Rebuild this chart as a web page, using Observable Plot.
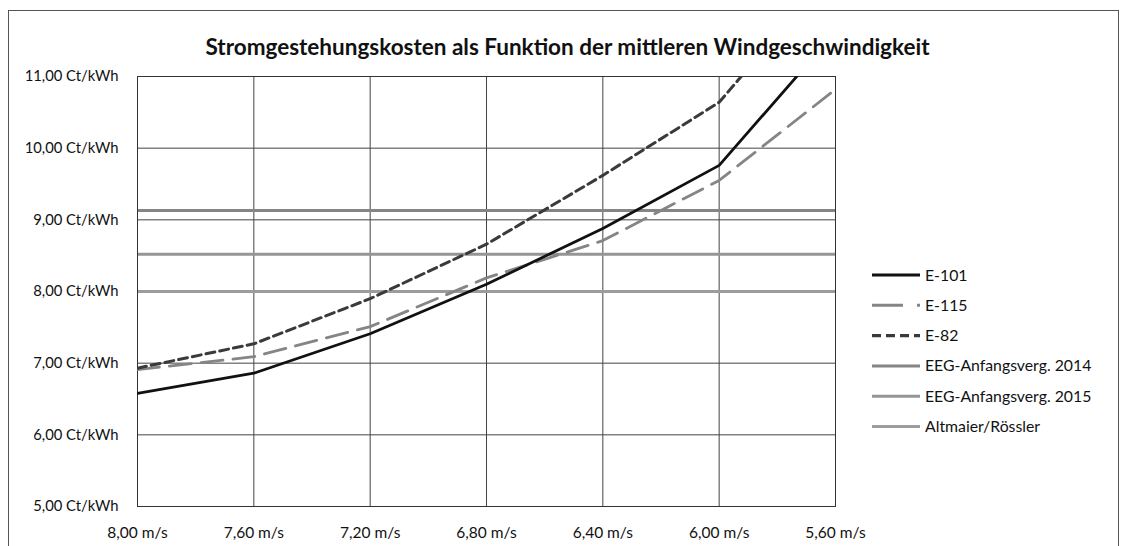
<!DOCTYPE html>
<html><head><meta charset="utf-8">
<script src="https://cdn.jsdelivr.net/npm/d3@7"></script>
<script src="https://cdn.jsdelivr.net/npm/@observablehq/plot@0.6"></script>
<style>
body{margin:0;background:#fff;font-family:Lato,"Liberation Sans",Arial,sans-serif;}
#wrap{position:relative;width:1129px;height:546px;overflow:hidden;background:#fff;}
#frame{position:absolute;left:8px;top:10px;width:1111px;height:545px;border:1px solid #555;box-sizing:border-box;pointer-events:none;}
#title{position:absolute;left:0;width:1135px;top:33px;text-align:center;font-weight:bold;font-size:22.5px;color:#111;white-space:nowrap;line-height:28px;}
#chart{position:absolute;left:0;top:0;}
</style></head>
<body>
<div id="wrap"><div id="chart"></div><div id="frame"></div>
<div id="title">Stromgestehungskosten als Funktion der mittleren Windgeschwindigkeit</div></div>
<script>
const speeds = [8.00, 7.60, 7.20, 6.80, 6.40, 6.00, 5.60];
const e101 = [6.58, 6.86, 7.41, 8.10, 8.88, 9.76, 11.62];
const e115 = [6.91, 7.09, 7.51, 8.19, 8.71, 9.55, 10.82];
const e82  = [6.93, 7.27, 7.90, 8.66, 9.62, 10.64, 12.54];
const eeg2014 = 9.13;
const eeg2015 = 8.52;
const altmaier = 8.00;
const yTicks = [5, 6, 7, 8, 9, 10, 11];
const seriesNames = ["E-101", "E-115", "E-82", "EEG-Anfangsverg. 2014", "EEG-Anfangsverg. 2015", "Altmaier/Rössler"];

const FONT = 'Lato, "Liberation Sans", Arial, sans-serif';
const fmt = v => v.toFixed(2).replace(".", ",");
const toRows = vals => speeds.map((s, i) => ({speed: s, value: vals[i]}));

const plot = Plot.plot({
  width: 1129, height: 546,
  marginLeft: 137, marginRight: 294, marginTop: 76, marginBottom: 40,
  style: {fontFamily: FONT, fontSize: "14.5px", color: "#111", background: "transparent"},
  x: {type: "linear", domain: [8.0, 5.6], label: null},
  y: {domain: [5, 11], label: null},
  marks: [
    Plot.gridX(speeds, {stroke: "#444", strokeOpacity: 1, strokeWidth: 1}),
    Plot.gridY(yTicks, {stroke: "#444", strokeOpacity: 1, strokeWidth: 1}),
    Plot.axisX(speeds, {tickFormat: d => fmt(d) + " m/s", tickSize: 0, tickPadding: 20, fontSize: 15.5, fill: "#111", label: null}),
    Plot.axisY(yTicks, {tickFormat: d => fmt(d) + " Ct/kWh", tickSize: 0, tickPadding: 19, fontSize: 14.8, fill: "#111", label: null}),
    Plot.ruleY([eeg2014], {stroke: "#858585", strokeWidth: 3}),
    Plot.ruleY([eeg2015], {stroke: "#959595", strokeWidth: 3}),
    Plot.ruleY([altmaier], {stroke: "#9c9c9c", strokeWidth: 3}),
    Plot.frame({stroke: "#333"}),
    Plot.line(toRows(e115), {x: "speed", y: "value", stroke: "#858585", strokeWidth: 2.8, strokeDasharray: "22,10", clip: true}),
    Plot.line(toRows(e82), {x: "speed", y: "value", stroke: "#3a3a3a", strokeWidth: 3, strokeDasharray: "9,5", clip: true}),
    Plot.line(toRows(e101), {x: "speed", y: "value", stroke: "#111", strokeWidth: 2.8, clip: true})
  ]
});
document.getElementById("chart").appendChild(plot);

// legend
const svg = d3.select(plot);
const lg = svg.append("g").attr("font-family", FONT).attr("font-size", "15.8px").attr("text-anchor", "start");
const styles = [
  {stroke: "#111", w: 3, dash: null},
  {stroke: "#858585", w: 3, dash: "31,14,3,10"},
  {stroke: "#3a3a3a", w: 3.2, dash: "9,5"},
  {stroke: "#858585", w: 3, dash: null},
  {stroke: "#959595", w: 3, dash: null},
  {stroke: "#9c9c9c", w: 3, dash: null}
];
seriesNames.forEach((name, i) => {
  const y = 275 + i * 30.3;
  const st = styles[i];
  const ln = lg.append("line").attr("x1", 872).attr("x2", 920).attr("y1", y).attr("y2", y)
    .attr("stroke", st.stroke).attr("stroke-width", st.w);
  if (st.dash) ln.attr("stroke-dasharray", st.dash);
  lg.append("text").attr("x", 925).attr("y", y).attr("dy", "0.35em").attr("fill", "#111").text(name);
});
</script>
</body></html>
